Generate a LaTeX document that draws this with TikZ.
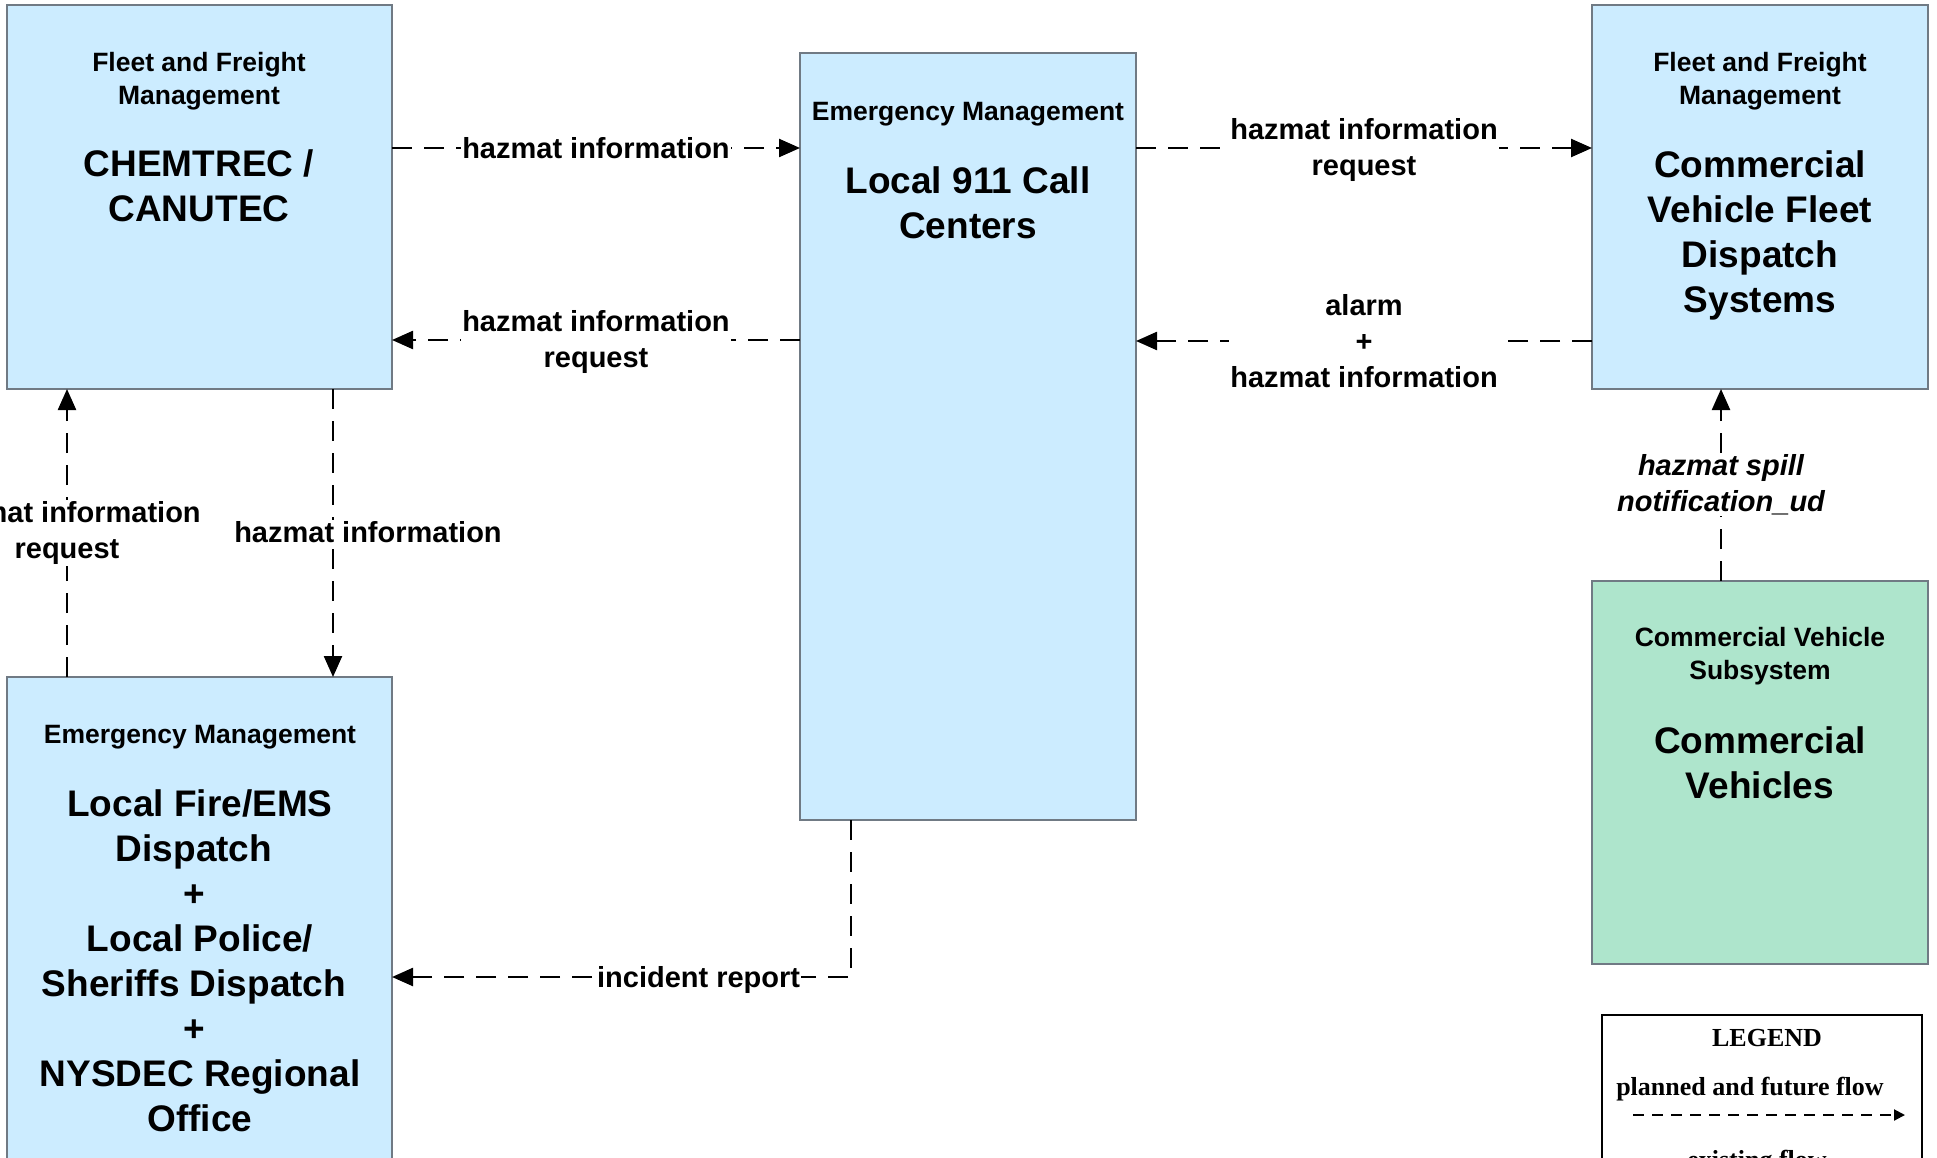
\documentclass[tikz,border=0pt]{standalone}
\usepackage{fontspec}
\setmainfont{Liberation Sans}
\newfontfamily\legfont{Liberation Serif}
\usetikzlibrary{arrows.meta,positioning,calc}
\definecolor{boxblue}{RGB}{204,236,255}
\definecolor{boxgreen}{RGB}{174,229,204}
\definecolor{boxedge}{RGB}{112,122,132}
\tikzset{
  sysbox/.style={draw=boxedge, line width=1.6pt, anchor=north west, inner sep=0pt, outer sep=0pt},
  catfont/.style={font=\fontsize{26.5}{33}\selectfont\bfseries, align=center, inner sep=0pt},
  titlefont/.style={font=\fontsize{37}{45}\selectfont\bfseries, align=center, inner sep=0pt},
  flow/.style={line width=2.4pt, dash pattern=on 20pt off 12pt, -{Triangle[length=21pt,width=18pt]}},
  lab/.style={font=\fontsize{29}{36}\selectfont\bfseries, align=center, fill=white, inner sep=1pt},
}
\begin{document}
\begin{tikzpicture}[x=1pt,y=-1pt]
\useasboundingbox (0,0) rectangle (1937,1158);
% boxes
\node[sysbox, fill=boxblue, minimum width=385pt, minimum height=384pt] (chem) at (7,5) {};
\node[sysbox, fill=boxblue, minimum width=336pt, minimum height=767pt] (c911) at (800,53) {};
\node[sysbox, fill=boxblue, minimum width=336pt, minimum height=384pt] (cvfds) at (1592,5) {};
\node[sysbox, fill=boxgreen, minimum width=336pt, minimum height=383pt] (green) at (1592,581) {};
\node[sysbox, fill=boxblue, minimum width=385pt, minimum height=540pt] (fire) at (7,677) {};
% box texts
\node[catfont] (chemcat) at (199,81.5) {Fleet and Freight\\Management};
\node[titlefont] (chemtitle) at (199,186) {CHEMTREC /\\CANUTEC};
\node[catfont] (c911cat) at (968,114.5) {Emergency Management};
\node[titlefont] (c911title) at (968,203) {Local 911 Call\\Centers};
\node[catfont] (cvfdscat) at (1760,81.5) {Fleet and Freight\\Management};
\node[titlefont] (cvfdstitle) at (1760,235) {Commercial\\Vehicle Fleet\\Dispatch\\Systems};
\node[catfont] (greencat) at (1760,656.5) {Commercial Vehicle\\Subsystem};
\node[titlefont] (greentitle) at (1760,762.5) {Commercial\\Vehicles};
\node[catfont] (firecat) at (200,737.5) {Emergency Management};
\node[titlefont] (firetitle) at (200,961) {Local Fire/EMS\\Dispatch\kern12pt\\+\kern12pt\\Local Police/\\Sheriffs Dispatch\kern12pt\\+\kern12pt\\NYSDEC Regional\\Office};
% connectors
\draw[flow] ([yshift=-143pt]chem.north east) -- node[lab] (l1) {hazmat information} ([yshift=-95pt]c911.north west);
\draw[flow] ([yshift=-287pt]c911.north west) -- node[lab, yshift=-2.5pt] (l2) {hazmat information\\request} ([yshift=-335pt]chem.north east);
\draw[flow] ([yshift=-95pt]c911.north east) -- node[lab, yshift=-2.5pt] (l3) {hazmat information\\request} ([yshift=-143pt]cvfds.north west);
\draw[flow] ([yshift=-336pt]cvfds.north west) -- node[lab] (l4) {alarm\\+\\hazmat information} ([yshift=-288pt]c911.north east);
\draw[flow] ([xshift=60pt]fire.north west) -- node[lab] (l5) {hazmat information\\request} ([xshift=60pt]chem.south west);
\draw[flow] ([xshift=326pt]chem.south west) -- node[lab, xshift=35pt, yshift=1pt] (l6) {hazmat information} ([xshift=326pt]fire.north west);
\draw[flow] ([xshift=51pt]c911.south west) |- node[lab, pos=0.666, yshift=-2.5pt] (l7) {incident report} ([yshift=-300pt]fire.north east);
\draw[flow] ([xshift=129pt]green.north west) -- node[lab, font=\fontsize{29}{36}\selectfont\bfseries\itshape] (l8) {hazmat spill\\notification\_ud} ([xshift=129pt]cvfds.south west);
% legend
\node[draw=black, line width=2.4pt, fill=white, anchor=north west, minimum width=320pt, minimum height=200pt, inner sep=0pt] (legend) at (1601,1014) {};
\node[font=\legfont\fontsize{26}{30}\selectfont\bfseries, inner sep=0pt] (legtitle) at (1767,1038) {LEGEND};
\node[font=\legfont\fontsize{26}{30}\selectfont\bfseries, inner sep=0pt] (legplanned) at (1750,1089) {planned and future flow};
\coordinate (lega) at (1633,1115);
\coordinate (legb) at (1905,1115);
\draw[line width=2pt, dash pattern=on 11pt off 8pt, -{Triangle[length=11pt,width=11pt]}] (lega) -- (legb);
\node[font=\legfont\fontsize{26}{30}\selectfont\bfseries, inner sep=0pt] (legexist) at (1757,1162) {existing flow};
\end{tikzpicture}
\end{document}
